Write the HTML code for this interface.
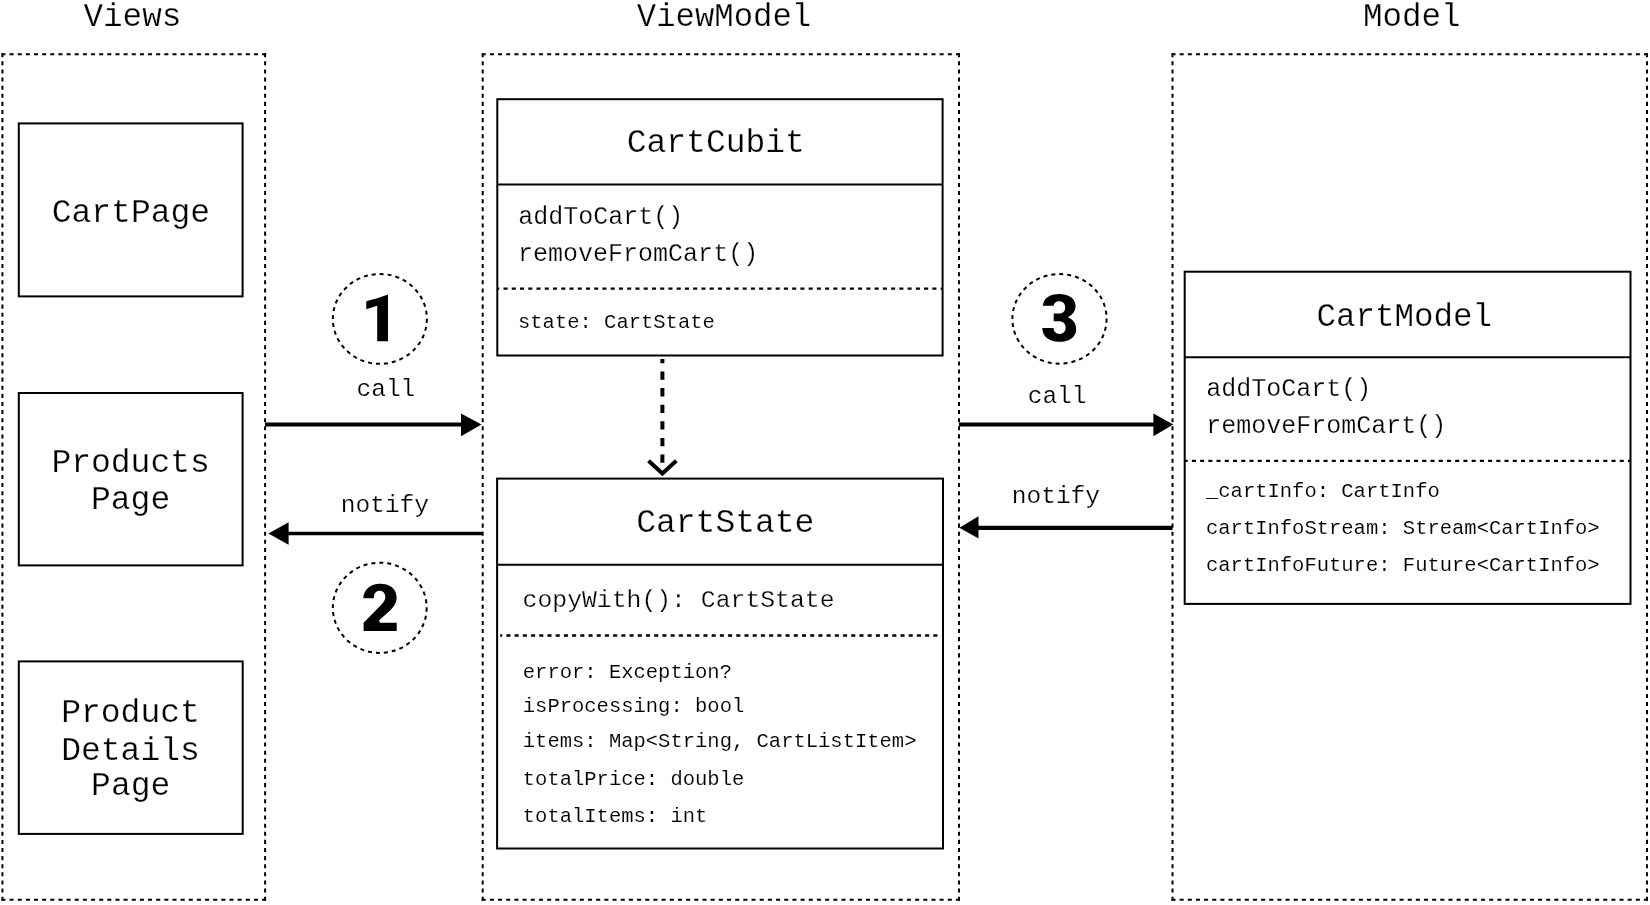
<!DOCTYPE html>
<html><head><meta charset="utf-8">
<style>
html,body{margin:0;padding:0;background:#fff;width:1650px;height:905px;overflow:hidden}
svg{display:block;filter:grayscale(1)}
text{font-family:"Liberation Mono",monospace;fill:#000;stroke:#fff;stroke-width:0.35px}
.t{font-size:33px;stroke-width:0.25px}.m{font-size:25px;stroke-width:0.25px}.l{font-size:24.5px;stroke-width:0.2px}.a{font-size:20.5px;stroke-width:0.1px}
.d{font-family:"Liberation Sans",sans-serif;font-weight:bold;font-size:68px}
</style></head><body>
<svg width="1650" height="905" viewBox="0 0 1650 905">
<rect width="1650" height="905" fill="#fff"/>
<g fill="none" stroke="#000" stroke-width="2">
<line x1="1.40" y1="54.20" x2="266.10" y2="54.20" stroke-dasharray="4.050 4.095"/><line x1="265.10" y1="53.20" x2="265.10" y2="900.70" stroke-dasharray="4.050 4.060"/><line x1="266.10" y1="899.70" x2="1.40" y2="899.70" stroke-dasharray="4.050 4.095"/><line x1="2.40" y1="900.70" x2="2.40" y2="53.20" stroke-dasharray="4.050 4.060"/>
<line x1="481.70" y1="54.20" x2="960.00" y2="54.20" stroke-dasharray="4.050 4.127"/><line x1="959.00" y1="53.20" x2="959.00" y2="900.70" stroke-dasharray="4.050 4.060"/><line x1="960.00" y1="899.70" x2="481.70" y2="899.70" stroke-dasharray="4.050 4.127"/><line x1="482.70" y1="900.70" x2="482.70" y2="53.20" stroke-dasharray="4.050 4.060"/>
<line x1="1171.50" y1="54.20" x2="1648.00" y2="54.20" stroke-dasharray="4.050 4.096"/><line x1="1647.00" y1="53.20" x2="1647.00" y2="900.70" stroke-dasharray="4.050 4.060"/><line x1="1648.00" y1="899.70" x2="1171.50" y2="899.70" stroke-dasharray="4.050 4.096"/><line x1="1172.50" y1="900.70" x2="1172.50" y2="53.20" stroke-dasharray="4.050 4.060"/>
</g>
<g fill="none" stroke="#000" stroke-width="2" stroke-dasharray="4 4">
<ellipse cx="379.85" cy="318.9" rx="47" ry="44.9"/>
<ellipse cx="379.75" cy="607.8" rx="46.9" ry="45.1"/>
<ellipse cx="1059.5" cy="318.85" rx="47.1" ry="44.8"/>
</g>
<g fill="none" stroke="#000" stroke-width="2.3">
<line x1="497.30" y1="288.55" x2="942.60" y2="288.55" stroke-dasharray="4.050 4.197" stroke-dashoffset="2.050"/>
<line x1="1184.97" y1="460.95" x2="1630.67" y2="460.95" stroke-dasharray="4.050 4.178" stroke-dashoffset="1.320"/>
<line x1="500.1" y1="635.5" x2="937.4" y2="635.5" stroke-dasharray="4.05 4.16" stroke-dashoffset="1.9"/>
</g>
<g fill="none" stroke="#000" stroke-width="2">
<rect x="18.8" y="123.4" width="223.8" height="173"/>
<rect x="18.8" y="393" width="223.8" height="172.4"/>
<rect x="18.8" y="661.4" width="223.9" height="172.5"/>
<rect x="497.3" y="99.2" width="445.3" height="256.3"/>
<line x1="497.3" y1="184.5" x2="942.6" y2="184.5"/>
<rect x="497.1" y="478.6" width="445.9" height="369.9"/>
<line x1="497.1" y1="564.8" x2="943" y2="564.8"/>
<rect x="1184.7" y="271.7" width="445.8" height="332.2"/>
<line x1="1184.7" y1="357.3" x2="1630.5" y2="357.3"/>
</g>
<g stroke="#000" fill="none">
<line x1="265" y1="424.45" x2="463" y2="424.45" stroke-width="4"/>
<line x1="482.7" y1="533.6" x2="287" y2="533.6" stroke-width="3.5"/>
<line x1="959" y1="424.45" x2="1155" y2="424.45" stroke-width="4"/>
<line x1="1172.5" y1="527.8" x2="977" y2="527.8" stroke-width="4.2"/>
<line x1="662.4" y1="359" x2="662.4" y2="470" stroke-width="4" stroke-dasharray="8.3 8.3" stroke-dashoffset="4.1"/>
<polyline points="648.5,460.8 662.4,473.5 676.3,460.8" stroke-width="4"/>
</g>
<g fill="#000">
<polygon points="461,413.6 481.5,424.45 461,436.2"/>
<polygon points="288.6,522.2 268.4,533.6 288.6,544.8"/>
<polygon points="1153.4,413.5 1173.3,424.45 1153.4,436.3"/>
<polygon points="978.5,516.2 959.4,527.8 978.5,538.6"/>
</g>
<g>
<text class="t" x="83.4" y="26" style="font-size:32.7px">Views</text>
<text class="t" x="636.8" y="26" style="font-size:32.3px">ViewModel</text>
<text class="t" x="1363" y="26" style="font-size:32.5px">Model</text>
<text class="t" x="51.7" y="221.5">CartPage</text>
<text class="t" x="51.4" y="472">Products</text>
<text class="t" x="91" y="509">Page</text>
<text class="t" x="61.2" y="722">Product</text>
<text class="t" x="61.2" y="759.5">Details</text>
<text class="t" x="91.1" y="795.2">Page</text>
<text class="t" x="626.7" y="151.8">CartCubit</text>
<text class="m" x="518.3" y="223.5">addToCart()</text>
<text class="m" x="518.1" y="260.5">removeFromCart()</text>
<text class="a" x="518" y="328">state: CartState</text>
<text class="l" x="356.5" y="395.8">call</text>
<text class="l" x="340.8" y="511.5">notify</text>
<text class="l" x="1027.7" y="402.6">call</text>
<text class="l" x="1011.8" y="502.6">notify</text>
<text class="t" x="636.2" y="532">CartState</text>
<text class="m" x="522.6" y="606.9" style="font-size:24.75px">copyWith(): CartState</text>
<text class="a" x="522.8" y="677.5">error: Exception?</text>
<text class="a" x="522.8" y="712">isProcessing: bool</text>
<text class="a" x="522.8" y="747.3">items: Map&lt;String, CartListItem&gt;</text>
<text class="a" x="522.8" y="784.6">totalPrice: double</text>
<text class="a" x="522.8" y="821.7">totalItems: int</text>
<text class="t" x="1316.6" y="326.3" style="font-size:32.5px">CartModel</text>
<text class="m" x="1206.3" y="396.1">addToCart()</text>
<text class="m" x="1206.3" y="433">removeFromCart()</text>
<text class="a" x="1206" y="496.5">_cartInfo: CartInfo</text>
<text class="a" x="1206" y="533.5">cartInfoStream: Stream&lt;CartInfo&gt;</text>
<text class="a" x="1206" y="570.5">cartInfoFuture: Future&lt;CartInfo&gt;</text>
</g>
<path d="M366.3,301.2 Q377,298.8 388,294.5 L388,341.2 L377.2,341.2 L377.2,305.8 L366.3,309.3 Z" fill="#000"/>
<path fill="#000" d="M363.3,598.3 C363.8,589.3 370.5,583.8 380.2,583.8 C390.5,583.8 396.6,589.6 396.6,597.3 C396.6,602.8 394.2,606.3 390.3,610.2 L379.2,620.3 L379.8,622.7 L396.7,622.7 L396.7,630.9 L363.6,630.9 L363.6,622.8 L381.5,604.5 C384,601.8 385.3,599.8 385.3,597.3 C385.3,593.3 383,590.8 379.6,590.8 C375.8,590.8 373.9,593.6 373.8,598.3 Z"/>
<path fill="#000" d="M1042.9,305.8 C1043.3,298.5 1049.5,294 1059.2,294 C1069.6,294 1075.6,299.3 1075.6,306 C1075.6,311 1072.3,315 1068,317.2 C1073,319.3 1076.2,323.4 1076.2,329.2 C1076.2,337 1069.2,341.8 1059.2,341.8 C1048.6,341.8 1042.5,336.5 1042.3,328.1 L1053.5,328.1 C1053.7,331.9 1056.2,333.9 1059.5,333.9 C1063.3,333.9 1065.6,331.6 1065.6,327.6 C1065.6,323.6 1063,321.3 1058.8,321.3 L1053.7,321.3 L1053.7,313.4 L1058.6,313.4 C1062.6,313.4 1065.2,311.4 1065.2,307.4 C1065.2,303.6 1062.9,301.2 1059.3,301.2 C1056,301.2 1053.8,303.2 1053.7,305.8 Z"/>
</svg>
</body></html>
